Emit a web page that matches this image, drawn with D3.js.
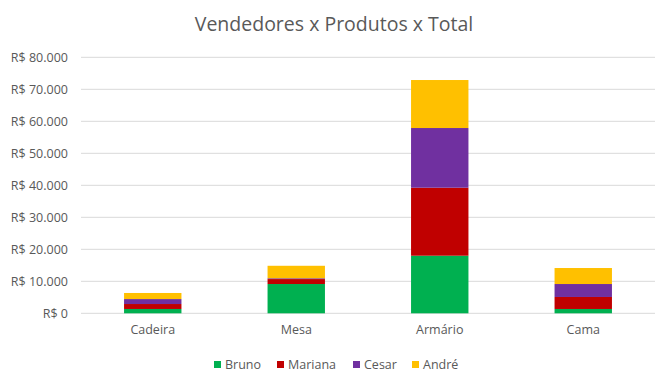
<!DOCTYPE html>
<html><head><meta charset="utf-8">
<script src="https://cdn.jsdelivr.net/npm/d3@7"></script>
<style>body{margin:0;background:#fff}svg{display:block}</style>
</head><body>
<script>
const categories = ["Cadeira", "Mesa", "Armário", "Cama"];
const seriesNames = ["Bruno", "Mariana", "Cesar", "André"];
const bruno   = [1350, 9150, 18000, 1350];
const mariana = [1550, 1550, 21250, 3750];
const cesar   = [1550, 250, 18650, 4050];
const andre   = [1900, 3900, 15000, 5000];
const colors  = ["#00b050", "#c00000", "#7030a0", "#ffc000"];
const yTicks  = [0, 10000, 20000, 30000, 40000, 50000, 60000, 70000, 80000];
const title   = "Vendedores x Produtos x Total";

const W = 670, H = 385;
const font = "'Open Sans', 'Liberation Sans', sans-serif";
const svg = d3.select("body").append("svg").attr("width", W).attr("height", H);

const table = categories.map((c, i) => ({cat: c, Bruno: bruno[i], Mariana: mariana[i], Cesar: cesar[i], "André": andre[i]}));
const stack = d3.stack().keys(seriesNames)(table);

const x = d3.scaleBand().domain(categories).range([81, 655]).paddingInner(0.6).paddingOuter(0.3);
const y = d3.scaleLinear().domain([0, 80000]).range([313.3, 57.3]);

// gridlines
svg.append("g").selectAll("line").data(yTicks).join("line")
  .attr("x1", 81).attr("x2", 655)
  .attr("y1", d => y(d)).attr("y2", d => y(d))
  .attr("stroke", "#d9d9d9").attr("stroke-width", 1);

// y axis
const yAxis = d3.axisLeft(y).tickValues(yTicks).tickSize(0).tickPadding(0)
  .tickFormat(d => "R$ " + d3.format(",")(d).replace(/,/g, "."));
const ya = svg.append("g").attr("transform", "translate(68,0)").call(yAxis);
ya.select(".domain").remove();
ya.selectAll("text").attr("fill", "#595959").style("font-family", font).style("font-size", "12.5px");

// bars
svg.append("g").selectAll("g").data(stack).join("g")
  .attr("fill", (d, i) => colors[i])
  .selectAll("rect").data(d => d).join("rect")
  .attr("x", d => x(d.data.cat))
  .attr("width", x.bandwidth())
  .attr("y", d => y(d[1]))
  .attr("height", d => y(d[0]) - y(d[1]));

// x axis
const xAxis = d3.axisBottom(x).tickSize(0).tickPadding(0);
const xa = svg.append("g").attr("transform", "translate(0,325)").call(xAxis);
xa.select(".domain").remove();
xa.selectAll("text").attr("fill", "#595959").style("font-family", font).style("font-size", "12.5px");

// title
svg.append("text").attr("x", 334).attr("y", 31).attr("text-anchor", "middle")
  .attr("fill", "#595959").style("font-family", font).style("font-size", "19.5px").text(title);

// legend
const legX = [214, 277, 353, 412];
const leg = svg.append("g").selectAll("g").data(seriesNames).join("g")
  .attr("transform", (d, i) => `translate(${legX[i]},0)`);
leg.append("rect").attr("x", 0).attr("y", 361).attr("width", 7).attr("height", 7)
  .attr("fill", (d, i) => colors[i]);
leg.append("text").attr("x", 11).attr("y", 369).attr("fill", "#595959")
  .style("font-family", font).style("font-size", "12.5px").text(d => d);
</script>
</body></html>
